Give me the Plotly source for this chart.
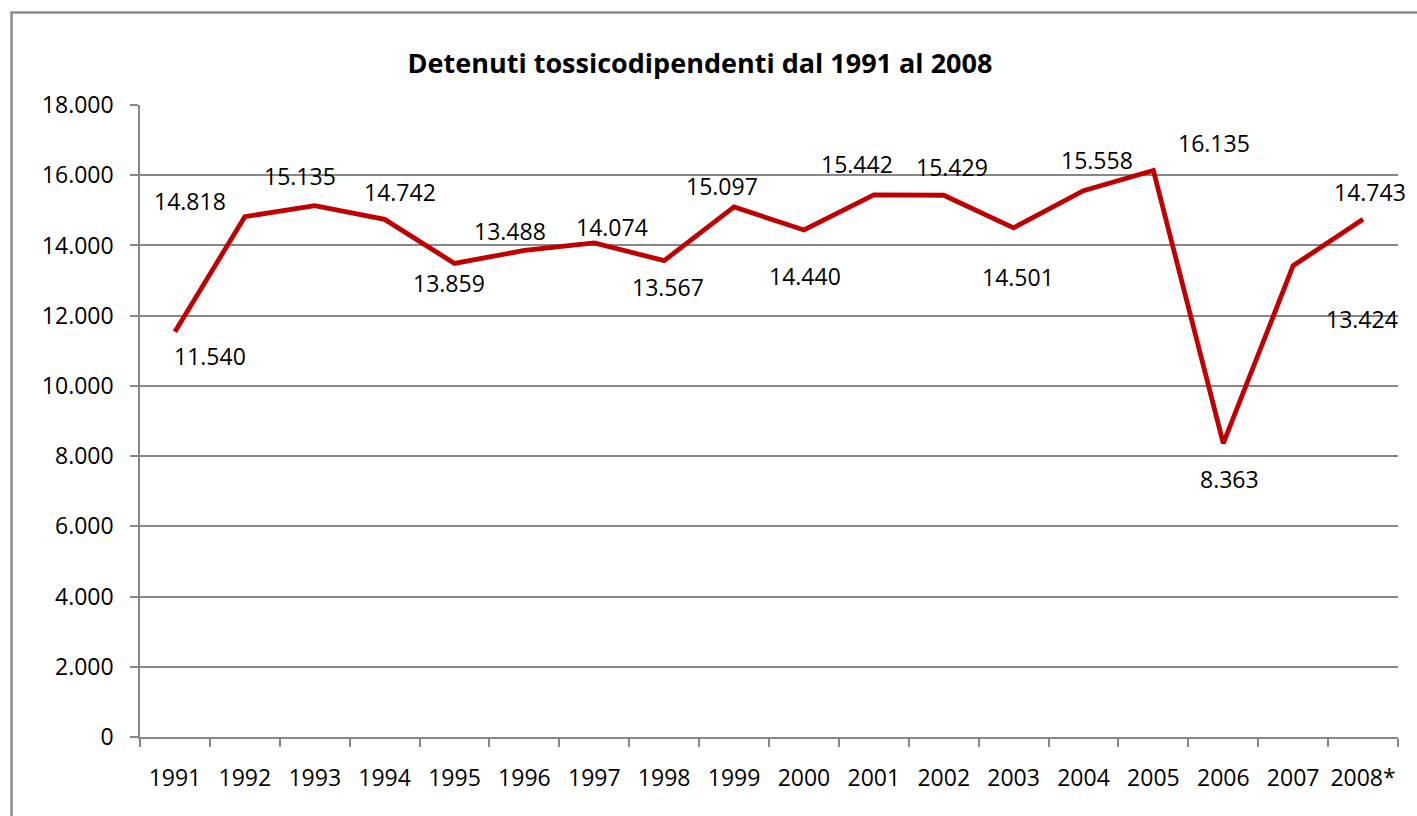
import plotly.graph_objects as go

years = ["1991", "1992", "1993", "1994", "1995", "1996", "1997", "1998", "1999",
         "2000", "2001", "2002", "2003", "2004", "2005", "2006", "2007", "2008*"]
detenuti = [11540, 14818, 15135, 14742, 13488, 13859, 14074, 13567, 15097,
            14440, 15442, 15429, 14501, 15558, 16135, 8363, 13424, 14743]
title_text = "Detenuti tossicodipendenti dal 1991 al 2008"
y_ticks = [0, 2000, 4000, 6000, 8000, 10000, 12000, 14000, 16000, 18000]

# label offsets in pixels (style only)
label_dx = [35, -55, -15, 15, 55, -75, 18, 4, -12, 1, -17, 8, 4, 13, 61, 6, 69, 7]
label_dy = [-24, 16, 30, 27, 32, -33, 16, -26, 21, -46, 31, 28, -49, 31, 27, -36, -53, 27]

FONT = "Open Sans"
GRID = "#878787"
FS = 23

fig = go.Figure()
fig.add_trace(go.Scatter(
    x=years, y=detenuti, mode="lines",
    line=dict(color="#C00000", width=4.8),
    hoverinfo="x+y", showlegend=False,
))

def fmt(v):
    return f"{v:,}".replace(",", ".")

for i, (v, dx, dy) in enumerate(zip(detenuti, label_dx, label_dy)):
    fig.add_annotation(x=i, y=v, xref="x", yref="y", text=fmt(v), showarrow=False,
                       xshift=dx, yshift=dy,
                       font=dict(family=FONT, size=FS, color="#000000"))

fig.add_shape(type="rect", xref="paper", yref="paper",
              x0=-0.10215, y0=-0.3, x1=1.2, y1=1.14636,
              line=dict(color="#8c8c8c", width=2.5), layer="below")

fig.update_layout(
    width=1417, height=816,
    margin=dict(l=140, r=19, t=105, b=79, autoexpand=False),
    paper_bgcolor="white", plot_bgcolor="white",
    separators=",.",
    title=dict(text="<b>" + title_text + "</b>", x=700 / 1417, xref="container",
               y=1 - 64 / 816, yref="container", xanchor="center", yanchor="middle",
               font=dict(family=FONT, size=27, color="#000000")),
    xaxis=dict(type="category", tickson="boundaries", ticks="outside", ticklen=8,
               tickcolor=GRID, tickwidth=1.5, showline=True, linecolor=GRID, linewidth=1.5,
               showgrid=False, tickfont=dict(family=FONT, size=FS, color="#000000"),
               tickangle=0, automargin=False,
               ticklabelstandoff=20, range=[-0.5, 17.5], fixedrange=True),
    yaxis=dict(range=[0, 18000], tickvals=y_ticks, tickformat=",d", ticks="outside",
               ticklen=8, tickcolor=GRID, tickwidth=1.5, showline=True, linecolor=GRID,
               linewidth=1.5, showgrid=True, gridcolor=GRID, gridwidth=1.5,
               zeroline=False, tickfont=dict(family=FONT, size=FS, color="#000000"),
               automargin=False, ticklabelstandoff=12, fixedrange=True),
)

fig.write_html("out.html", config={"displayModeBar": False},
               post_script="document.body.style.margin='0';document.body.style.overflow='hidden';")
